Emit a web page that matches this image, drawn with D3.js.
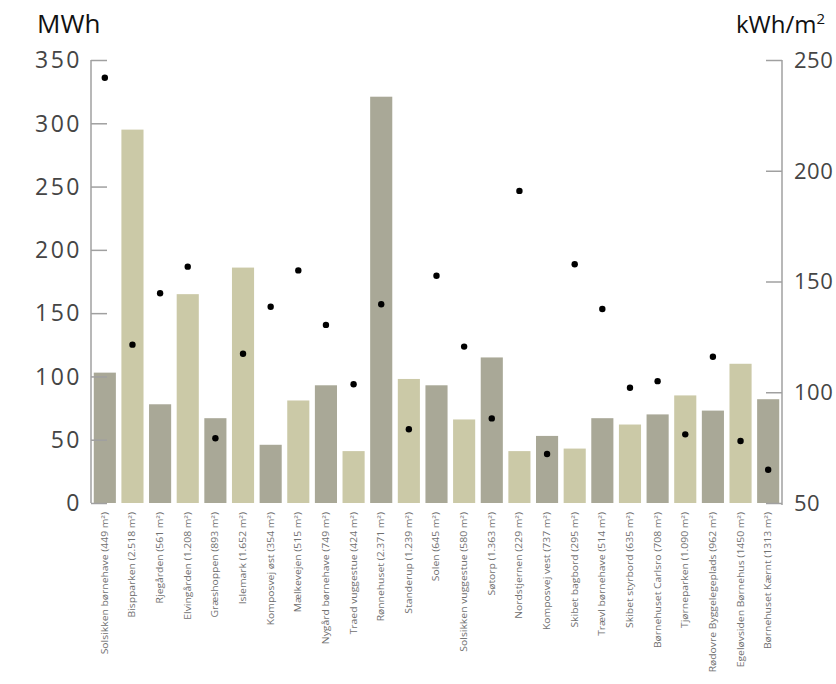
<!DOCTYPE html>
<html><head><meta charset="utf-8">
<script src="https://cdn.jsdelivr.net/npm/d3@7"></script>
<style>body{margin:0;background:#fff}svg{display:block}</style>
</head><body><svg id="c" width="836" height="684"></svg>
<script>
const categories = [
 "Solsikken børnehave (449 m²)","Bispparken (2.518 m²)","Rjegården (561 m²)","Elvingården (1.208 m²)",
 "Græshoppen (893 m²)","Islemark (1.652 m²)","Komposvej øst (354 m²)","Mælkevejen (515 m²)",
 "Nygård børnehave (749 m²)","Traed vuggestue (424 m²)","Rønnehuset (2.371 m²)","Standerup (1.239 m²)",
 "Solen (645 m²)","Solsikken vuggestue (580 m²)","Søtorp (1.363 m²)","Nordstjernen (229 m²)",
 "Komposvej vest (737 m²)","Skibet bagbord (295 m²)","Trævl børnehave (514 m²)","Skibet styrbord (635 m²)",
 "Børnehuset Carlsro (708 m²)","Tjørneparken (1.090 m²)","Rødovre Byggelegeplads (962 m²)",
 "Egeløvsiden Børnehus (1450 m²)","Børnehuset Kærnt (1313 m²)"];
const mwh = [103,295,78,165,67,186,46,81,93,41,321,98,93,66,115,41,53,43,67,62,70,85,73,110,82];
const kwhm2 = [242,121.5,144.7,156.7,79.2,117.4,138.6,155,130.4,103.6,139.7,83.3,152.6,120.6,88.2,190.9,72.1,157.8,137.6,102,105,81,116,78,65];
const leftTicks = [0,50,100,150,200,250,300,350];
const rightTicks = [50,100,150,200,250];

const svg = d3.select("#c");
const x0 = 91, x1 = 782, yTop = 60, yBot = 503;
const x = d3.scaleBand().domain(categories).range([x0, x1]).paddingInner(0.2).paddingOuter(0.1);
const yL = d3.scaleLinear().domain([0,350]).range([yBot, yTop]);
const yR = d3.scaleLinear().domain([50,250]).range([yBot, yTop]);
const colors = ["#a9a897","#cbc9a7"];

svg.append("g").selectAll("rect").data(categories).join("rect")
  .attr("x", d => x(d)).attr("width", x.bandwidth())
  .attr("y", (d,i) => yL(mwh[i])).attr("height", (d,i) => yBot - yL(mwh[i]))
  .attr("fill", (d,i) => colors[i % 2]);

const axisL = svg.append("g").attr("transform", `translate(${x0},0)`)
  .call(d3.axisRight(yL).tickValues(leftTicks).tickSize(16).tickFormat(""));
axisL.selectAll("path,line").attr("stroke", "#a0a0a0").attr("stroke-width", 1.5);
axisL.select(".domain").remove();
axisL.append("line").attr("x1",0).attr("x2",0).attr("y1",yTop).attr("y2",yBot).attr("stroke","#a0a0a0").attr("stroke-width",1.5);

const axisR = svg.append("g").attr("transform", `translate(${x1},0)`)
  .call(d3.axisLeft(yR).tickValues(rightTicks).tickSize(16).tickFormat(""));
axisR.selectAll("path,line").attr("stroke", "#a0a0a0").attr("stroke-width", 1.5);
axisR.select(".domain").remove();
axisR.append("line").attr("x1",0).attr("x2",0).attr("y1",yTop).attr("y2",yBot+2).attr("stroke","#a0a0a0").attr("stroke-width",1.5);

const fontF = "'Open Sans', sans-serif";
svg.append("g").selectAll("text").data(leftTicks).join("text")
  .attr("x", 82).attr("y", d => yL(d)).attr("dy", "0.36em")
  .attr("text-anchor", "end").attr("font-family", fontF).attr("font-size", 23)
  .attr("letter-spacing", 2.5).attr("fill", "#454545").text(d => d);
svg.append("g").selectAll("text").data(rightTicks).join("text")
  .attr("x", 794).attr("y", d => yR(d)).attr("dy", "0.36em")
  .attr("text-anchor", "start").attr("font-family", fontF).attr("font-size", 22)
  .attr("letter-spacing", 0.5).attr("fill", "#454545").text(d => d);

svg.append("text").attr("x", 37).attr("y", 33).attr("font-family", fontF)
  .attr("font-size", 26).attr("fill", "#111").text("MWh");
const t = svg.append("text").attr("x", 736).attr("y", 33).attr("font-family", fontF)
  .attr("font-size", 24).attr("fill", "#111");
t.append("tspan").text("kWh/m");
t.append("tspan").attr("dy", -9).attr("font-size", 15).text("2");

svg.append("g").selectAll("circle").data(categories).join("circle")
  .attr("cx", d => x(d) + x.bandwidth()/2).attr("cy", (d,i) => yR(kwhm2[i]))
  .attr("r", 3.2).attr("fill", "#000");

svg.append("g").selectAll("text").data(categories).join("text")
  .attr("transform", d => `translate(${x(d) + x.bandwidth()/2},512) rotate(-90) scale(1.22,1)`)
  .attr("dy", "0.35em").attr("text-anchor", "end")
  .attr("font-family", fontF).attr("font-size", 8.5).attr("fill", "#707070").text(d => d);
</script></body></html>
